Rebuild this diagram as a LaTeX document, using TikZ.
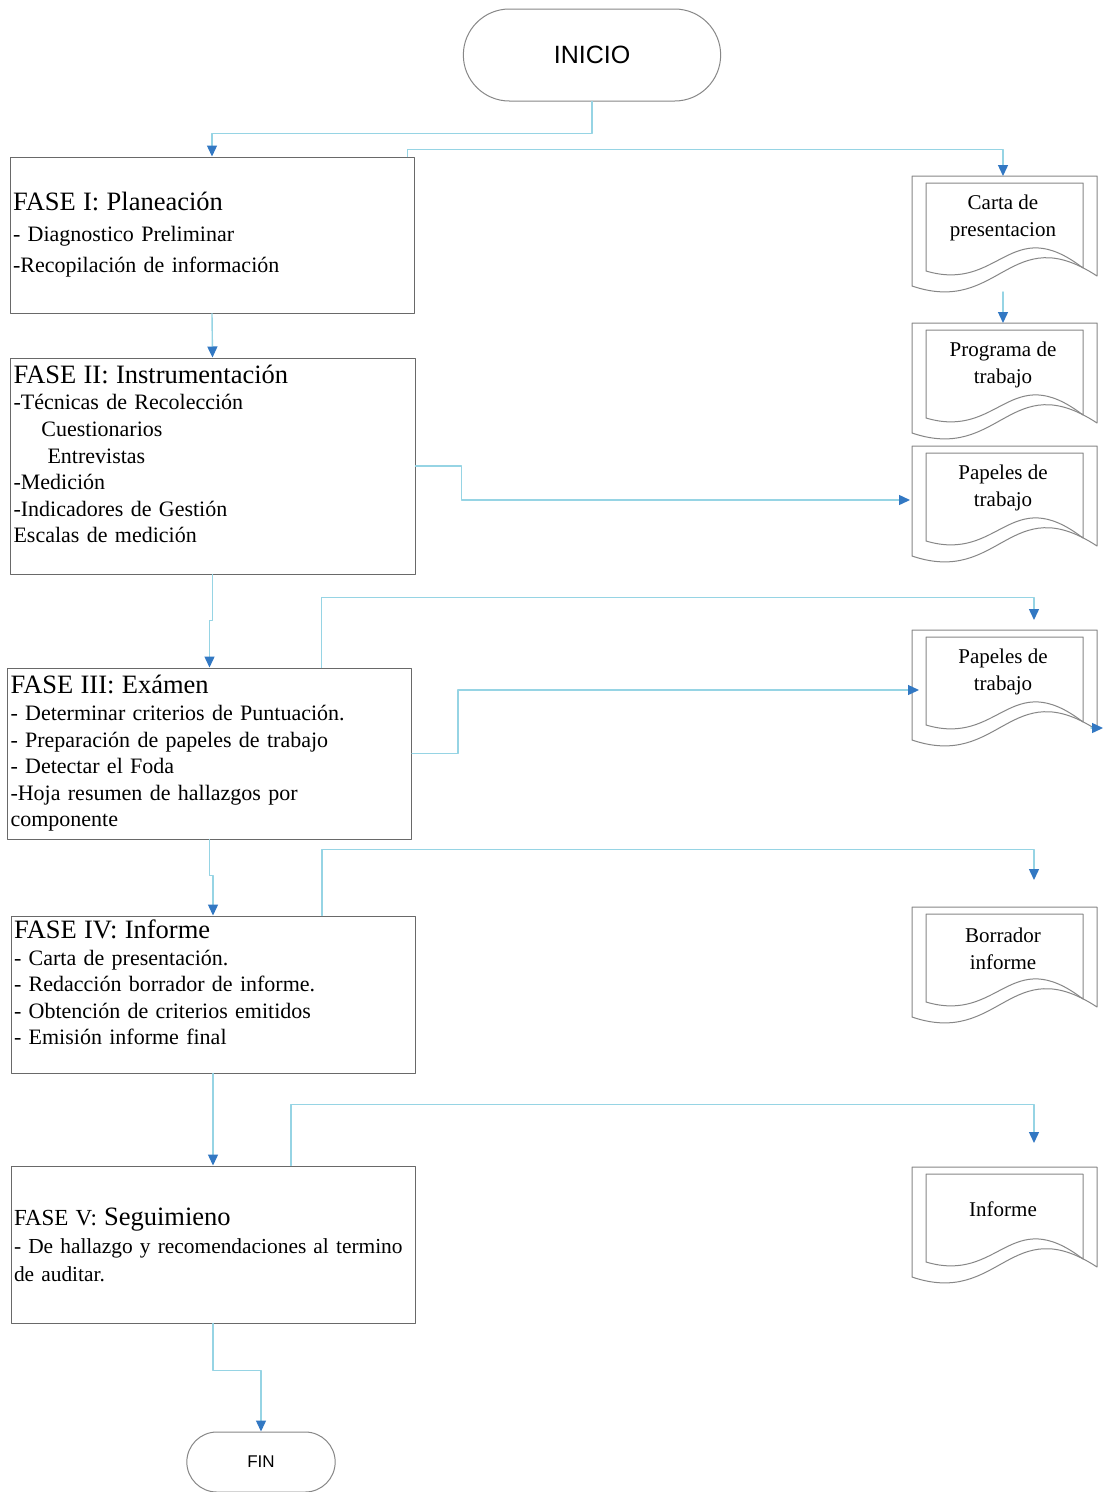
\documentclass[tikz,border=0pt]{standalone}
\usepackage{fontspec}
\setmainfont{Liberation Serif}
\newfontfamily\termfont{Liberation Sans}
\usetikzlibrary{arrows.meta,calc,shapes.misc}
\definecolor{linecyan}{RGB}{150,212,228}
\definecolor{tipblue}{RGB}{50,120,195}
\definecolor{framegray}{RGB}{105,105,105}
\tikzset{
  flow/.style={draw=linecyan,line width=1.4pt,-{Triangle[color=tipblue,length=11pt,width=10pt]}},
  fase/.style={draw=framegray,line width=1pt,rectangle,inner xsep=3pt,text width=398pt,align=left,font=\fontsize{22}{26.6}\selectfont},
  terminal/.style={draw=framegray!80,line width=1pt,rounded rectangle},
  doctext/.style={align=center,font=\fontsize{21}{27}\selectfont},
  docline/.style={draw=framegray!80,line width=1pt},
}
\newcommand{\fasetitle}[1]{{\fontsize{26.5}{30}\selectfont #1\par}}
\newcommand{\docframe}[1]{%
  \draw[docline] ($(#1.center)+(-91,68)$) -- ($(#1.center)+(-91,-42)$) -- ($(#1.center)+(94,-42)$) -- ($(#1.center)+(94,58)$) .. controls ($(#1.center)+(7,1)$) and ($(#1.center)+(-3,98)$) .. cycle;
  \draw[docline] ($(#1.center)+(-77,53)$) -- ($(#1.center)+(-77,-35)$) -- ($(#1.center)+(80,-35)$) -- ($(#1.center)+(80,50)$) .. controls ($(#1.center)+(7,-6)$) and ($(#1.center)+(-3,75)$) .. cycle;
  \coordinate (#1-top) at ($(#1.center)+(0,-42)$);
  \coordinate (#1-bot) at ($(#1.center)+(0,74)$);
}

\begin{document}
\begin{tikzpicture}[x=1pt,y=-1pt,line cap=round,line join=round]
\fill[white] (0,0) rectangle (1104,1492);
\useasboundingbox (0,0) rectangle (1104,1492);

\node[terminal,minimum width=264,minimum height=92,font=\termfont\fontsize{25}{30}\selectfont] (inicio) at (592,55) {INICIO};
\node[terminal,minimum width=155,minimum height=60,font=\termfont\fontsize{17}{20}\selectfont] (fin) at (261,1462) {FIN};

\node[fase,minimum width=404,minimum height=156,font=\fontsize{22}{31}\selectfont] (f1) at (212,235) {\fasetitle{FASE I: Planeación}
- Diagnostico Preliminar\\
-Recopilación de información};
\node[fase,minimum width=405,minimum height=216] (f2) at (212.5,466) {\fasetitle{FASE II: Instrumentación}
-Técnicas de Recolección\\
\hspace*{28pt}Cuestionarios\\
\hspace*{34pt}Entrevistas\\
-Medición\\
-Indicadores de Gestión\\
Escalas de medición\vspace{24pt}};
\node[fase,minimum width=399,minimum height=171] (f3) at (209.5,753.5) {\fasetitle{FASE III: Exámen}
- Determinar criterios de Puntuación.\\
- Preparación de papeles de trabajo\\
- Detectar el Foda\\
-Hoja resumen de hallazgos por\\
componente};
\node[fase,minimum width=404,minimum height=157] (f4) at (213,994.5) {\fasetitle{FASE IV: Informe}
- Carta de presentación.\\
- Redacción borrador de informe.\\
- Obtención de criterios emitidos\\
- Emisión informe final\vspace{24pt}};
\node[fase,minimum width=404,minimum height=157,font=\fontsize{21.4}{28}\selectfont] (f5) at (213,1244.5) {{\fontsize{23}{28}\selectfont FASE V:} {\fontsize{26.5}{30}\selectfont Seguimieno}\\
\mbox{- De hallazgo y recomendaciones al termino}\\
de auditar.};

\node[doctext] (carta) at (1003,218) {Carta de\\presentacion};
\node[doctext] (prog) at (1003,365) {Programa de\\trabajo};
\node[doctext] (pap1) at (1003,488) {Papeles de\\trabajo};
\node[doctext] (pap2) at (1003,672) {Papeles de\\trabajo};
\node[doctext] (borr) at (1003,949) {Borrador\\informe};
\node[doctext] (inf) at (1003,1209) {Informe};
\docframe{carta}
\docframe{prog}
\docframe{pap1}
\docframe{pap2}
\docframe{borr}
\docframe{inf}

\coordinate (drop2) at (1034,620);
\coordinate (drop3) at (1034,880);
\coordinate (drop4) at (1034,1143);

\draw[flow] (inicio.south) -- ++(0,32) -| (f1.north);
\draw[flow] ([xshift=-7pt]f1.north east) -- ++(0,-7) -| (carta-top);
\draw[flow] (carta-bot) -- (prog-top);
\draw[flow] (f1.south) -- (f2.north);
\draw[flow] (f2.east) -- ++(46,0) |- ($(pap1.center)+(-93,12)$);
\draw[flow] (f2.south) -- ++(0,46) -| (f3.north);
\draw[flow] ([xshift=112pt]f3.north) -- ++(0,-70) -| (drop2);
\draw[flow] (f3.east) -- ++(46,0) |- ($(pap2.center)+(-84,18)$);
\draw[flow] ($(pap2.center)+(88,56)$) -- ++(12,0);
\draw[flow] (f3.south) -- ++(0,36) -| (f4.north);
\draw[flow] ([xshift=109pt]f4.north) -- ++(0,-66) -| (drop3);
\draw[flow] (f4.south) -- (f5.north);
\draw[flow] ([xshift=78pt]f5.north) -- ++(0,-61) -| (drop4);
\draw[flow] (f5.south) -- ++(0,47) -| (fin.north);
\end{tikzpicture}
\end{document}
